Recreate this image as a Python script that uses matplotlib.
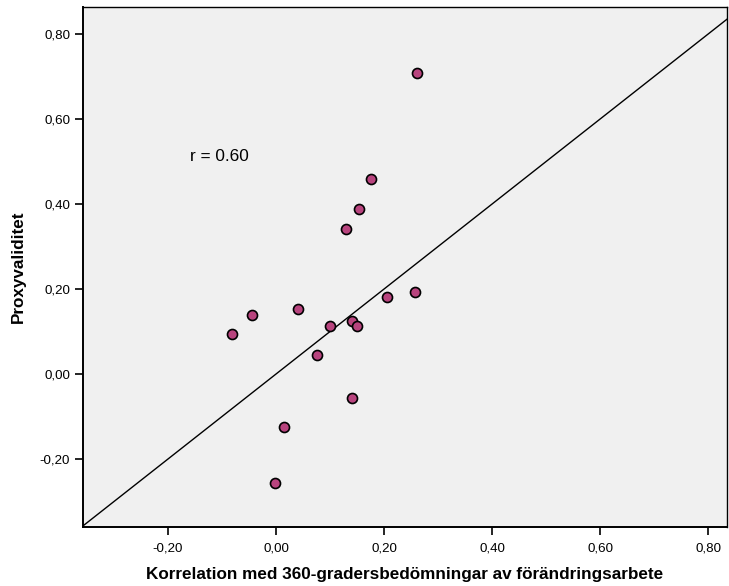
import matplotlib.pyplot as plt

plt.rcParams['font.family'] = ['Liberation Sans', 'DejaVu Sans']

# korrelation med 360-gradersbedömningar (x) mot proxyvaliditet (y)
korrelation = [0.261, 0.176, 0.154, 0.129, -0.081, -0.044, 0.041, 0.099,
               0.141, 0.149, 0.205, 0.257, 0.076, 0.141, 0.014, -0.002]
proxyvaliditet = [0.709, 0.458, 0.388, 0.342, 0.094, 0.139, 0.153, 0.113,
                  0.124, 0.114, 0.180, 0.193, 0.045, -0.057, -0.124, -0.257]

xticks = [-0.20, 0.00, 0.20, 0.40, 0.60, 0.80]
yticks = [-0.20, 0.00, 0.20, 0.40, 0.60, 0.80]
xlim = (-0.358, 0.835)
ylim = (-0.360, 0.863)

fig = plt.figure(figsize=(7.29, 5.86), dpi=100)
ax = fig.add_axes([0.1134, 0.1007, 0.884, 0.887])
ax.set_facecolor('#f0f0f0')

# referenslinje y = x
ax.plot([-1, 1], [-1, 1], color='black', lw=1.0, zorder=2)

ax.scatter(korrelation, proxyvaliditet, s=52, color='#b8447e',
           edgecolor='black', linewidth=1.2, zorder=3)

ax.text(-0.160, 0.511, 'r = 0.60', fontsize=12.4, ha='left', va='center')

ax.set_xlim(*xlim)
ax.set_ylim(*ylim)
ax.set_xticks(xticks)
ax.set_yticks(yticks)
ax.set_xticklabels([f'{t:.2f}'.replace('.', ',') for t in xticks])
ax.set_yticklabels([f'{t:.2f}'.replace('.', ',') for t in yticks])
ax.tick_params(direction='out', length=6, width=1.2, labelsize=9.6,
               colors='black', pad=3)
ax.tick_params(axis='x', pad=5)
for sp in ax.spines.values():
    sp.set_linewidth(1.0)
ax.spines['left'].set_linewidth(1.4)
ax.spines['bottom'].set_linewidth(1.4)

ax.set_xlabel('Korrelation med 360-gradersbedömningar av förändringsarbete',
              fontsize=12.3, fontweight='bold', labelpad=9)
ax.set_ylabel('Proxyvaliditet', fontsize=12.3, fontweight='bold', labelpad=10)

fig.savefig('out.png', dpi=100)
